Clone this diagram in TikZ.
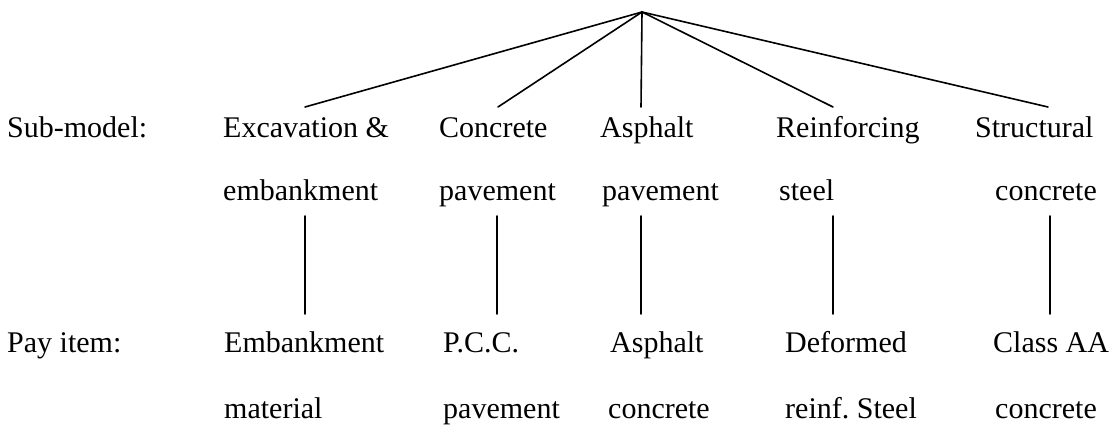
\documentclass[tikz,border=0pt]{standalone}
\usepackage{fontspec}
\setmainfont{Liberation Serif}
\begin{document}
\begin{tikzpicture}[x=1pt,y=-1pt,
  lbl/.style={anchor=base west,inner sep=0pt,font=\fontsize{30}{36}\selectfont},
  link/.style={line width=1.6pt,line cap=round}]
\useasboundingbox (0,0) rectangle (1116,433);

% root of the tree
\coordinate (root) at (642,12);

% upper ends of the sub-model branches
\coordinate (s1) at (305,107);
\coordinate (s2) at (498,107);
\coordinate (s3) at (641,107);
\coordinate (s4) at (833,107);
\coordinate (s5) at (1048,107);

% sub-model labels
\node[lbl] (hsub) at (7,138) {Sub-model:};
\node[lbl] (a1) at (223,138) {Excavation \&};
\node[lbl] (a2) at (439,138) {Concrete};
\node[lbl] (a3) at (600,138) {Asphalt};
\node[lbl] (a4) at (776,138) {Reinforcing};
\node[lbl] (a5) at (975,138) {Structural};

\node[lbl] (b1) at (223,200) {embankment};
\node[lbl] (b2) at (439,200) {pavement};
\node[lbl] (b3) at (602,200) {pavement};
\node[lbl] (b4) at (779,200) {steel};
\node[lbl] (b5) at (995,200) {concrete};

% pay item labels
\node[lbl] (hpay) at (7,352) {Pay item:};
\node[lbl] (c1) at (224,352) {Embankment};
\node[lbl] (c2) at (443,352) {P.C.C.};
\node[lbl] (c3) at (610,352) {Asphalt};
\node[lbl] (c4) at (785,352) {Deformed};
\node[lbl] (c5) at (993,352) {Class AA};

\node[lbl] (d1) at (224,418) {material};
\node[lbl] (d2) at (443,418) {pavement};
\node[lbl] (d3) at (608,418) {concrete};
\node[lbl] (d4) at (785,418) {reinf.\ Steel};
\node[lbl] (d5) at (995,418) {concrete};

% vertical links between sub-models and pay items
\foreach \i/\x in {1/305,2/497,3/641,4/833,5/1050}{
  \coordinate (t\i) at (\x,216);
  \coordinate (u\i) at (\x,314);
}

\foreach \i in {1,...,5}{
  \draw[link] (root) -- (s\i);
  \draw[link] (t\i) -- (u\i);
}
\end{tikzpicture}
\end{document}
